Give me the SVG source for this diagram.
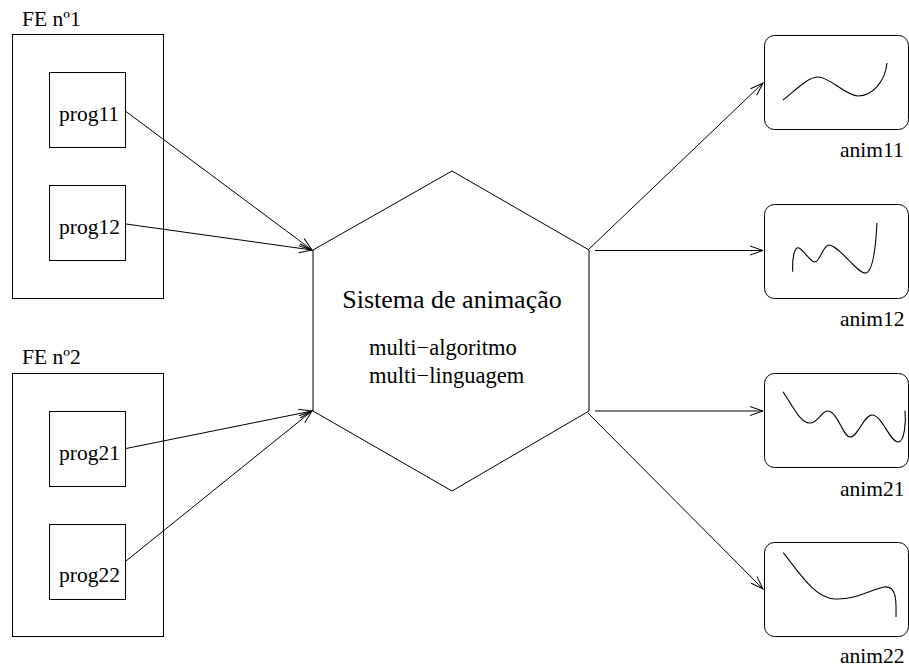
<svg xmlns="http://www.w3.org/2000/svg" width="909" height="668" viewBox="0 0 909 668">
<style>
.b{fill:none;stroke:#000;stroke-width:1}
.c{fill:none;stroke:#000;stroke-width:1.1}
.t{font-family:"Liberation Serif","Times New Roman",serif;font-size:21.5px;fill:#000}
.big{font-family:"Liberation Serif","Times New Roman",serif;font-size:26px;fill:#000}
.sub{font-family:"Liberation Serif","Times New Roman",serif;font-size:22.5px;fill:#000}
.a{fill:none;stroke:#000;stroke-width:1;marker-end:url(#ah)}
</style>
<defs>
<marker id="ah" markerUnits="userSpaceOnUse" markerWidth="16" markerHeight="12" viewBox="0 0 16 12" refX="14" refY="6" orient="auto">
<path d="M1,1.5 L14,6 L1,10.5" fill="none" stroke="#000" stroke-width="1"/>
</marker>
</defs>
<rect width="909" height="668" fill="#fff"/>
<g id="fe1">
<rect class="b" x="12.5" y="34.5" width="151" height="264"/>
<text class="t" x="22" y="26">FE nº1</text>
</g>
<g id="prog11">
<rect class="b" x="49.5" y="72.5" width="76" height="75"/>
<text class="t" x="59" y="121">prog11</text>
</g>
<g id="prog12">
<rect class="b" x="49.5" y="185.5" width="76" height="75"/>
<text class="t" x="59" y="234">prog12</text>
</g>
<g id="fe2">
<rect class="b" x="12.5" y="373.5" width="151" height="263"/>
<text class="t" x="22" y="364">FE nº2</text>
</g>
<g id="prog21">
<rect class="b" x="49.5" y="411.5" width="76" height="75"/>
<text class="t" x="59" y="460">prog21</text>
</g>
<g id="prog22">
<rect class="b" x="49.5" y="524.5" width="76" height="75"/>
<text class="t" x="59" y="582">prog22</text>
</g>
<g id="sistema">
<polygon class="b" points="452,171 589,250 589,411 452,491 313,411 313,250"/>
<text class="big" x="452" y="308" text-anchor="middle">Sistema de animação</text>
<text class="sub" x="369" y="355">multi−algoritmo</text>
<text class="sub" x="369" y="383">multi−linguagem</text>
</g>
<g id="anim11">
<rect class="b" x="764.5" y="35.5" width="144" height="94" rx="10"/>
<path class="c" d="M783,100 C 797,89 808,77 818,77 C 830,77 846,96 858,96 C 872,96 885,82 887,63"/>
<text class="t" x="840" y="157">anim11</text>
</g>
<g id="anim12">
<rect class="b" x="764.5" y="204.5" width="144" height="94" rx="10"/>
<path class="c" d="M792.7,271.7 C 792,256 795,246 799,248 C 805,251 810,262 815,262 C 820,262 823,245 829,245 C 840,246 858,275 866,273 C 874,271 876,242 877,223"/>
<text class="t" x="840" y="326">anim12</text>
</g>
<g id="anim21">
<rect class="b" x="764.5" y="373.5" width="144" height="94" rx="10"/>
<path class="c" d="M783,391.7 C 792,405 800,423 810,423 C 818,423 822,410 828,411 C 838,412 843,437 850,437 C 858,437 864,415 872,415 C 882,415 890,442 898,442 C 905,442 906,420 905,410.7"/>
<text class="t" x="840" y="496">anim21</text>
</g>
<g id="anim22">
<rect class="b" x="764.5" y="542.5" width="144" height="94" rx="10"/>
<path class="c" d="M783.3,552.7 C 800,574 815,598 835,599 C 855,600 870,590 884,587 C 898,585 896,605 896,617"/>
<text class="t" x="840" y="663">anim22</text>
</g>
<g id="connectors">
<line class="a" x1="126" y1="111.5" x2="312" y2="250"/>
<line class="a" x1="126" y1="224" x2="312" y2="250"/>
<line class="a" x1="126" y1="448.5" x2="312" y2="411"/>
<line class="a" x1="126" y1="561" x2="312" y2="411"/>
<line class="a" x1="588" y1="250" x2="763" y2="83"/>
<line class="a" x1="595" y1="250.5" x2="763" y2="250.5"/>
<line class="a" x1="595" y1="411" x2="763" y2="411"/>
<line class="a" x1="588" y1="413" x2="763" y2="589"/>
</g>
</svg>
